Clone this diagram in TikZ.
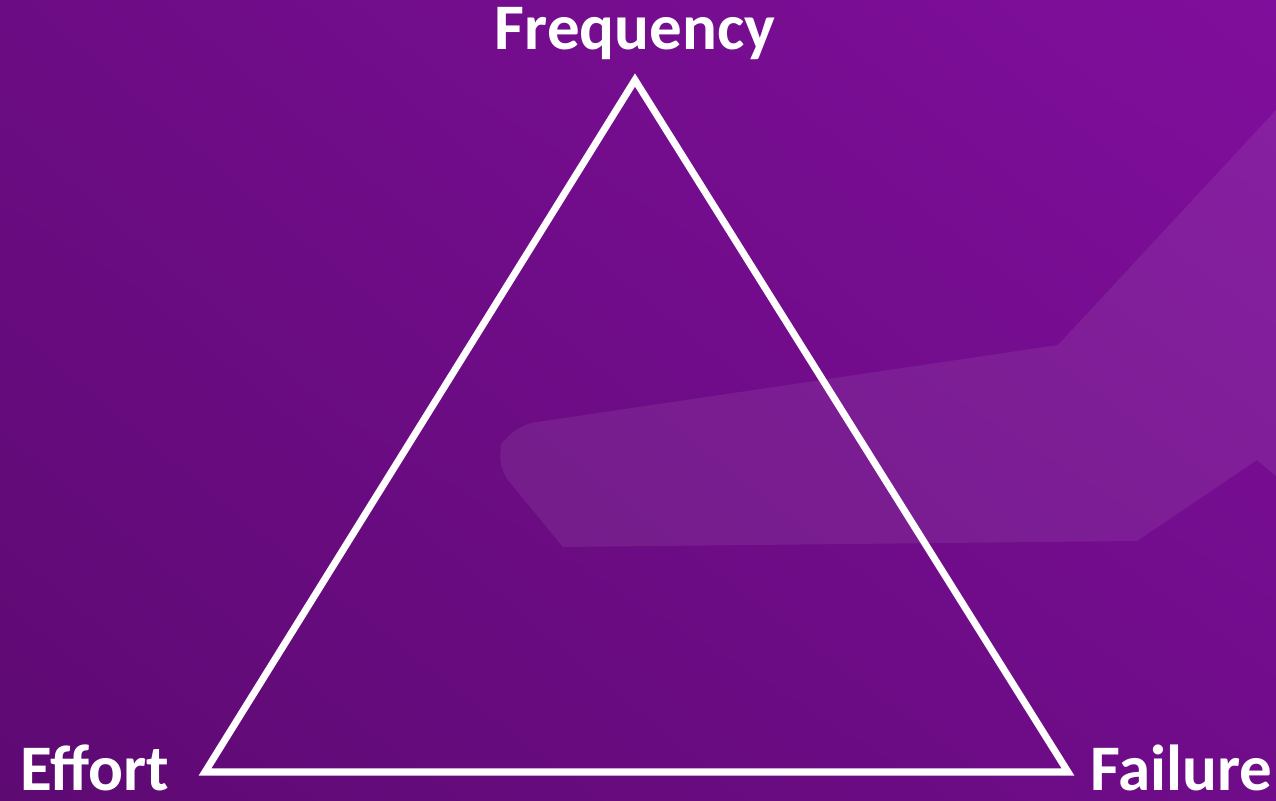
\documentclass[tikz,border=0pt]{standalone}
\usepackage{fontspec}
\setmainfont{Carlito}
\usetikzlibrary{positioning,shadings}
\definecolor{bgdark}{RGB}{94,10,115}
\definecolor{bgmid}{RGB}{112,12,138}
\definecolor{bglight}{RGB}{128,14,156}
\definecolor{bgtl}{RGB}{108,12,132}
\tikzset{
  corner/.style={font=\bfseries\fontsize{37}{37}\selectfont, text=white, inner sep=0pt},
  edge/.style={draw=white, line width=4pt, line join=miter},
  ribbon/.style={fill=white, fill opacity=0.07, draw=none}
}
\begin{document}
\begin{tikzpicture}[x=0.02cm, y=-0.02cm]
    \shade[lower left=bgdark, upper right=bglight, upper left=bgtl, lower right=bgmid]
      (0,0) rectangle (1276,801);
    \useasboundingbox (0,0) rectangle (1276,801);

    % light band in the background
    \fill[ribbon] (1276,110) -- (1058,345) [rounded corners=14pt] -- (510,426)
      -- (493,462) [sharp corners] -- (563,547) -- (1137,541) -- (1257,460) -- (1276,476) -- cycle;

    \coordinate (top)   at (635,80);
    \coordinate (left)  at (205,772);
    \coordinate (right) at (1068,772);

    \draw[edge] (top) -- (left) -- (right) -- cycle;

    \node[corner, anchor=base] (freq) at (635,50) {Frequency};
    \node[corner, text depth=0pt, anchor=base west] (effort) at (20,790) {Effort};
    \node[corner, text depth=0pt, anchor=base west] (fail) at (1090,790) {Failure};
\end{tikzpicture}
\end{document}
